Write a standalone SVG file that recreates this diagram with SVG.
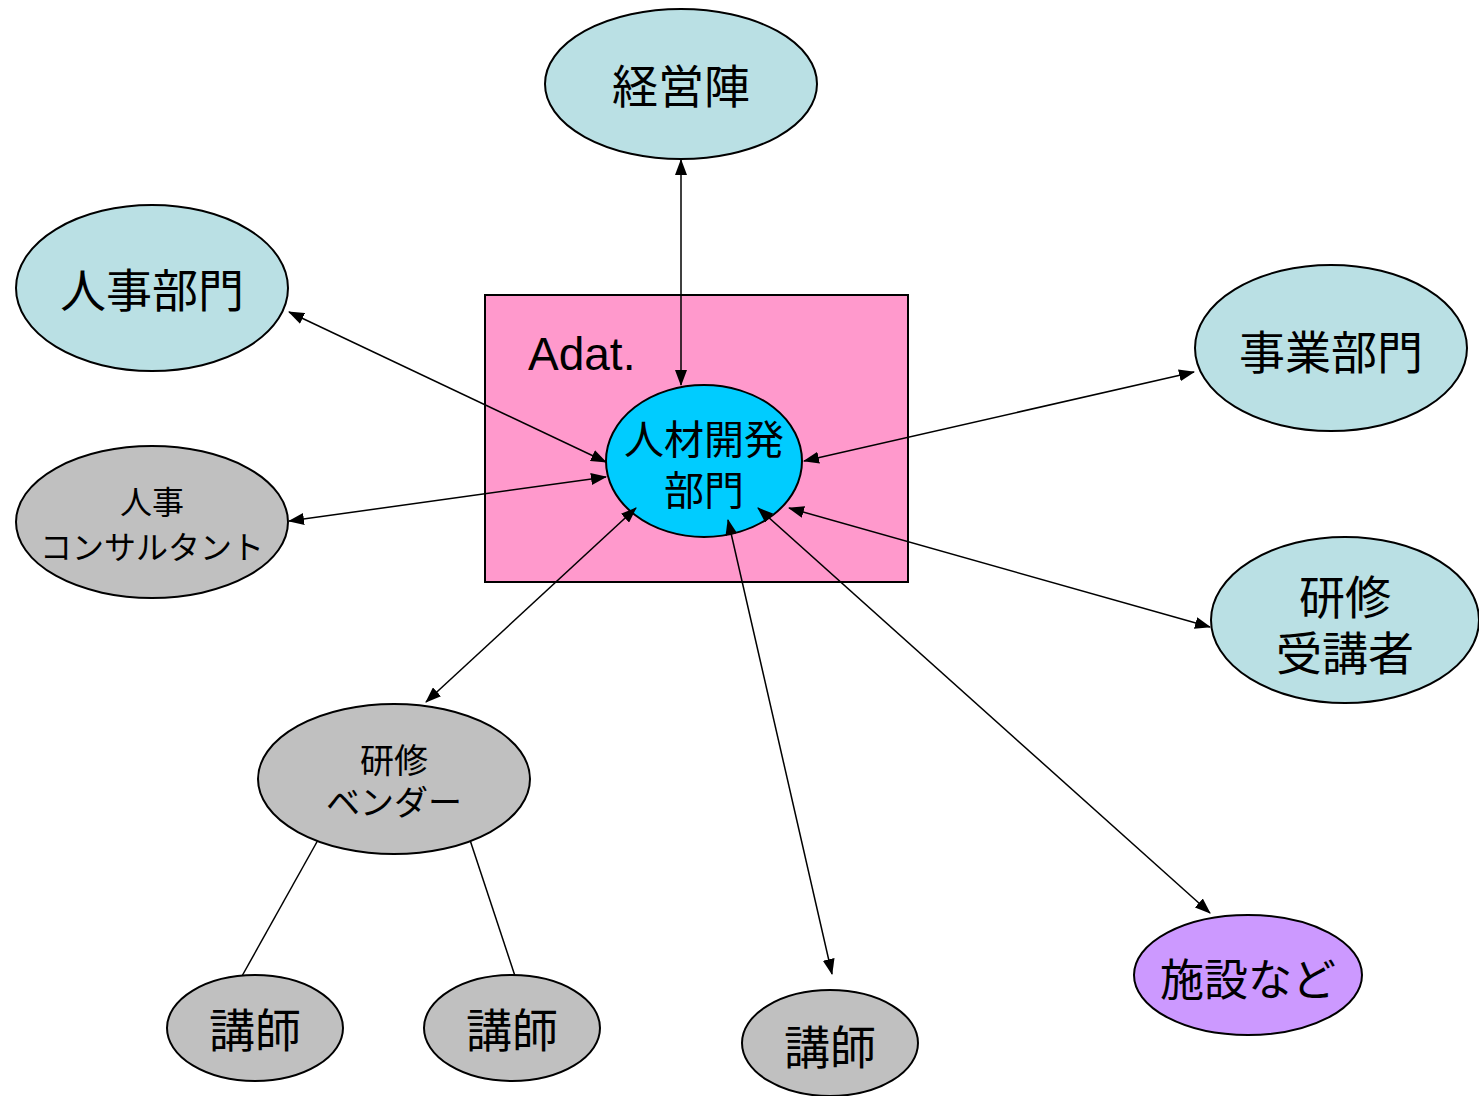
<svg xmlns="http://www.w3.org/2000/svg" width="1479" height="1096" viewBox="0 0 1479 1096">
<defs>
<marker id="ah" markerUnits="userSpaceOnUse" markerWidth="16" markerHeight="12" refX="15" refY="6" orient="auto-start-reverse">
<path d="M0,0 L16,6 L0,12 Z" fill="#000"/>
</marker>
</defs>
<style>
.e{stroke:#000;stroke-width:2}
.teal{fill:#bae0e4}
.gray{fill:#c0c0c0}
.t{font-family:"Noto Sans CJK JP","Liberation Sans",sans-serif;text-anchor:middle;dominant-baseline:central;fill:#000}
.c{stroke:#000;stroke-width:1.5;fill:none}
.a{marker-start:url(#ah);marker-end:url(#ah)}
</style>
<rect width="1479" height="1096" fill="#fff"/>
<g id="adat">
<rect x="485" y="295" width="423" height="287" fill="#ff99cc" stroke="#000" stroke-width="2"/>
<text x="528" y="370" font-family="Liberation Sans, Arial, sans-serif" font-size="46" fill="#000">Adat.</text>
</g>
<g id="jinzai">
<ellipse class="e" cx="704" cy="461" rx="98" ry="76" fill="#00ccff"/>
<text class="t" x="704" y="437" font-size="40">人材開発</text>
<text class="t" x="704" y="488" font-size="40">部門</text>
</g>
<g id="connectors">
<line class="c a" x1="681" y1="160" x2="681" y2="385"/>
<line class="c a" x1="289" y1="312" x2="606" y2="462"/>
<line class="c a" x1="289" y1="521" x2="606" y2="477"/>
<line class="c a" x1="1194" y1="372" x2="804" y2="461"/>
<line class="c a" x1="1210" y1="627" x2="789" y2="508"/>
<line class="c a" x1="426" y1="702" x2="636" y2="508"/>
<line class="c a" x1="832" y1="974" x2="728" y2="520"/>
<line class="c a" x1="1210" y1="913" x2="758" y2="508"/>
<line class="c" x1="318" y1="840" x2="242" y2="976"/>
<line class="c" x1="470" y1="840" x2="515" y2="976"/>
</g>
<g id="keiei">
<ellipse class="e teal" cx="681" cy="84" rx="136" ry="75"/>
<text class="t" x="681" y="83" font-size="46">経営陣</text>
</g>
<g id="jinji">
<ellipse class="e teal" cx="152" cy="288" rx="136" ry="83"/>
<text class="t" x="152" y="287" font-size="46">人事部門</text>
</g>
<g id="jigyo">
<ellipse class="e teal" cx="1331" cy="348" rx="136" ry="83"/>
<text class="t" x="1331" y="349" font-size="46">事業部門</text>
</g>
<g id="consultant">
<ellipse class="e gray" cx="152" cy="522" rx="136" ry="76"/>
<text class="t" x="152" y="500" font-size="32">人事</text>
<text class="t" x="152" y="545" font-size="32">コンサルタント</text>
</g>
<g id="jukosha">
<ellipse class="e teal" cx="1345" cy="620" rx="134" ry="83"/>
<text class="t" x="1345" y="594" font-size="46">研修</text>
<text class="t" x="1345" y="650" font-size="46">受講者</text>
</g>
<g id="vendor">
<ellipse class="e gray" cx="394" cy="779" rx="136" ry="75"/>
<text class="t" x="394" y="758" font-size="34">研修</text>
<text class="t" x="394" y="800" font-size="34">ベンダー</text>
</g>
<g id="koshi1">
<ellipse class="e gray" cx="255" cy="1028" rx="88" ry="53"/>
<text class="t" x="255" y="1027" font-size="46">講師</text>
</g>
<g id="koshi2">
<ellipse class="e gray" cx="512" cy="1028" rx="88" ry="53"/>
<text class="t" x="512" y="1027" font-size="46">講師</text>
</g>
<g id="koshi3">
<ellipse class="e gray" cx="830" cy="1043" rx="88" ry="53"/>
<text class="t" x="830" y="1044" font-size="46">講師</text>
</g>
<g id="shisetsu">
<ellipse class="e" cx="1248" cy="975" rx="114" ry="60" fill="#cc99ff"/>
<text class="t" x="1248" y="977" font-size="44">施設など</text>
</g>
</svg>
